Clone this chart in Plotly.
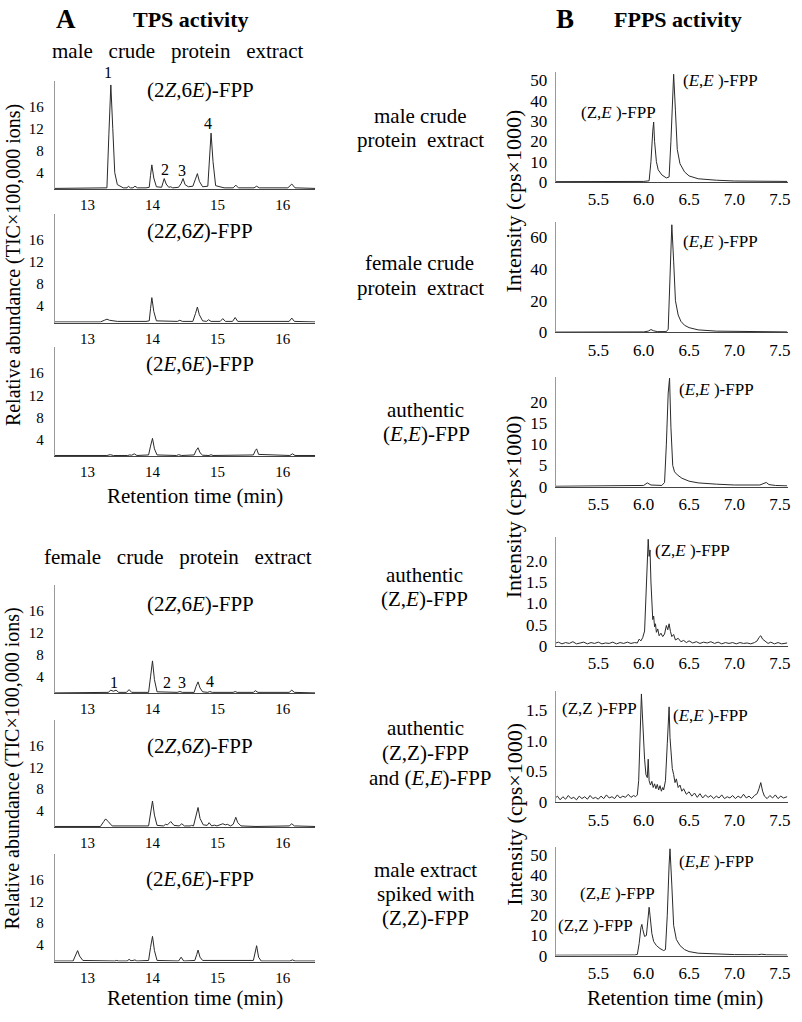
import plotly.graph_objects as go

# ---------------- DATA ----------------
# Panel A: GC-MS chromatograms, retention time (min) vs TIC (x100,000 ions)
A1_male_2Z6E = [(12.50, 1.1), (12.80, 1.1), (13.00, 1.1), (13.30, 1.2), (13.33, 11.0), (13.36, 20.0),
                (13.39, 12.0), (13.42, 4.0), (13.46, 1.8), (13.55, 1.2), (13.61, 1.2), (13.63, 1.5),
                (13.66, 1.2), (13.70, 1.2), (13.73, 1.5), (13.77, 1.2), (13.90, 1.2), (13.95, 1.3),
                (13.97, 3.5), (13.99, 5.4), (14.02, 3.0), (14.06, 1.4), (14.14, 1.3), (14.16, 2.2),
                (14.18, 2.9), (14.21, 1.9), (14.25, 1.3), (14.28, 1.4), (14.31, 1.2), (14.40, 1.3),
                (14.44, 2.0), (14.47, 2.9), (14.50, 1.8), (14.55, 1.4), (14.62, 1.5), (14.66, 2.8),
                (14.69, 3.8), (14.72, 2.4), (14.77, 1.4), (14.85, 1.5), (14.88, 7.0), (14.90, 11.2),
                (14.93, 6.0), (14.97, 1.6), (15.10, 1.2), (15.24, 1.2), (15.28, 1.7), (15.32, 1.2),
                (15.56, 1.2), (15.60, 1.5), (15.64, 1.2), (16.08, 1.2), (16.14, 1.9), (16.19, 1.2),
                (16.50, 1.1)]
A2_male_2Z6Z = [(12.50, 1.1), (13.20, 1.1), (13.26, 1.4), (13.30, 1.6), (13.34, 1.4), (13.40, 1.3),
                (13.46, 1.2), (13.90, 1.2), (13.95, 1.3), (13.97, 3.5), (13.99, 5.5), (14.02, 3.0),
                (14.06, 1.3), (14.38, 1.2), (14.42, 1.4), (14.46, 1.2), (14.62, 1.2), (14.66, 2.6),
                (14.69, 3.8), (14.72, 2.4), (14.77, 1.3), (14.83, 1.2), (14.86, 1.5), (14.90, 1.2),
                (15.04, 1.2), (15.08, 1.7), (15.12, 1.2), (15.23, 1.2), (15.27, 1.9), (15.31, 1.2),
                (16.10, 1.2), (16.14, 1.8), (16.18, 1.2), (16.50, 1.1)]
A3_male_2E6E = [(12.50, 1.1), (12.62, 1.1), (12.65, 1.2), (12.68, 1.1), (13.30, 1.1), (13.35, 1.25),
                (13.40, 1.1), (13.62, 1.1), (13.65, 1.2), (13.68, 1.15), (13.72, 1.4), (13.76, 1.1),
                (13.94, 1.2), (13.97, 2.8), (14.00, 4.2), (14.03, 2.3), (14.07, 1.2), (14.37, 1.1),
                (14.40, 1.25), (14.45, 1.1), (14.64, 1.2), (14.67, 2.0), (14.70, 2.5), (14.73, 1.6),
                (14.77, 1.15), (14.87, 1.1), (14.90, 1.25), (14.93, 1.1), (15.55, 1.2), (15.58, 2.0),
                (15.60, 2.3), (15.63, 1.3), (16.11, 1.1), (16.15, 1.4), (16.19, 1.1), (16.50, 1.1)]
A4_female_2Z6E = [(12.50, 1.1), (12.80, 1.1), (13.32, 1.2), (13.36, 1.6), (13.40, 1.4), (13.44, 1.6),
                  (13.48, 1.2), (13.60, 1.2), (13.64, 1.7), (13.68, 1.2), (13.94, 1.2), (13.97, 4.0),
                  (14.00, 6.9), (14.03, 3.5), (14.07, 1.3), (14.38, 1.2), (14.42, 1.35), (14.46, 1.2),
                  (14.64, 1.2), (14.67, 2.3), (14.70, 3.1), (14.73, 2.0), (14.77, 1.3), (14.85, 1.2),
                  (14.88, 1.35), (14.92, 1.2), (15.24, 1.2), (15.27, 1.35), (15.30, 1.2), (15.55, 1.2),
                  (15.58, 1.5), (15.62, 1.2), (16.10, 1.2), (16.14, 1.6), (16.18, 1.2), (16.50, 1.1)]
A5_female_2Z6Z = [(12.50, 1.1), (13.20, 1.1), (13.25, 2.0), (13.28, 2.5), (13.32, 2.0), (13.38, 1.2),
                  (13.94, 1.2), (13.97, 3.8), (14.00, 5.8), (14.03, 3.2), (14.07, 1.3), (14.17, 1.2),
                  (14.20, 1.5), (14.23, 1.4), (14.28, 2.0), (14.33, 1.3), (14.41, 1.2), (14.45, 1.6),
                  (14.49, 1.2), (14.58, 1.2), (14.60, 1.3), (14.63, 1.2), (14.67, 3.0), (14.70, 4.6),
                  (14.73, 2.6), (14.78, 1.4), (14.84, 1.3), (14.87, 1.8), (14.91, 1.2), (14.95, 1.35),
                  (14.99, 1.2), (15.05, 1.4), (15.08, 1.6), (15.12, 1.4), (15.15, 1.5), (15.20, 1.2),
                  (15.24, 1.5), (15.28, 2.8), (15.31, 1.8), (15.36, 1.2), (15.53, 1.1), (15.56, 1.2),
                  (15.59, 1.1), (16.10, 1.2), (16.14, 1.6), (16.18, 1.2), (16.50, 1.1)]
A6_female_2E6E = [(12.50, 1.1), (12.78, 1.1), (12.82, 2.2), (12.85, 3.0), (12.88, 2.0), (12.93, 1.2),
                  (13.42, 1.1), (13.45, 1.2), (13.48, 1.1), (13.61, 1.1), (13.64, 1.4), (13.67, 1.15),
                  (13.70, 1.2), (13.73, 1.3), (13.76, 1.1), (13.94, 1.2), (13.97, 3.6), (14.00, 5.6),
                  (14.03, 3.0), (14.07, 1.2), (14.40, 1.1), (14.44, 1.8), (14.48, 1.1), (14.65, 1.2),
                  (14.68, 2.3), (14.70, 3.1), (14.73, 1.8), (14.77, 1.2), (15.55, 1.2), (15.58, 2.8),
                  (15.60, 3.9), (15.63, 1.8), (15.67, 1.1), (16.11, 1.1), (16.15, 1.3), (16.19, 1.1),
                  (16.50, 1.1)]

# Panel B: LC-MS traces, retention time (min) vs intensity (cps x 1000)
B1_male = [(5.02, 0.2), (5.50, 0.2), (6.00, 0.3), (6.06, 0.6), (6.08, 10), (6.10, 25), (6.11, 29.5),
           (6.12, 20), (6.14, 10), (6.16, 6), (6.20, 3.5), (6.25, 2), (6.28, 2.5), (6.30, 20), (6.32, 45),
           (6.33, 53), (6.35, 35), (6.37, 16), (6.40, 9), (6.45, 5), (6.50, 3), (6.60, 1.6), (6.80, 0.9),
           (7.00, 0.5), (7.58, 0.3)]
B2_female = [(5.02, 0.2), (5.50, 0.2), (6.00, 0.3), (6.05, 0.8), (6.08, 1.8), (6.11, 1.0), (6.15, 0.5),
             (6.25, 0.5), (6.27, 2), (6.29, 35), (6.31, 68), (6.33, 45), (6.35, 20), (6.38, 11), (6.41, 7),
             (6.45, 4.5), (6.50, 3), (6.60, 1.6), (6.80, 0.8), (7.58, 0.3)]
B3_auth_EE = [(5.02, 0.1), (5.80, 0.15), (6.00, 0.3), (6.04, 0.9), (6.08, 0.4), (6.20, 0.3), (6.23, 1.0),
              (6.25, 10), (6.27, 22), (6.285, 25.5), (6.30, 14), (6.32, 5), (6.34, 3.5), (6.37, 2.8),
              (6.42, 2.0), (6.50, 1.3), (6.60, 0.9), (6.80, 0.6), (7.00, 0.4), (7.28, 0.4), (7.32, 0.7),
              (7.35, 1.0), (7.38, 0.5), (7.45, 0.3), (7.58, 0.2)]
B4_auth_ZE = [(5.02, 0.06), (5.06, 0.09), (5.10, 0.05), (5.14, 0.08), (5.18, 0.06), (5.22, 0.10), (5.26, 0.05),
              (5.30, 0.07), (5.34, 0.09), (5.38, 0.05), (5.42, 0.08), (5.46, 0.06), (5.50, 0.09), (5.54, 0.05),
              (5.58, 0.07), (5.62, 0.06), (5.66, 0.09), (5.70, 0.05), (5.74, 0.08), (5.78, 0.06), (5.82, 0.09),
              (5.86, 0.06), (5.90, 0.08), (5.93, 0.07), (5.95, 0.16), (5.97, 0.12), (5.99, 0.20), (6.01, 0.35),
              (6.025, 1.30), (6.04, 2.05), (6.05, 2.50), (6.06, 2.10), (6.07, 2.25), (6.08, 1.50), (6.09, 1.00),
              (6.10, 0.62), (6.11, 0.70), (6.12, 0.45), (6.13, 0.52), (6.14, 0.32), (6.155, 0.40), (6.17, 0.24),
              (6.19, 0.30), (6.21, 0.22), (6.23, 0.28), (6.25, 0.48), (6.265, 0.38), (6.28, 0.52), (6.295, 0.34),
              (6.31, 0.22), (6.33, 0.27), (6.35, 0.14), (6.38, 0.18), (6.41, 0.10), (6.44, 0.13), (6.47, 0.08),
              (6.50, 0.12), (6.54, 0.07), (6.58, 0.10), (6.62, 0.06), (6.66, 0.09), (6.70, 0.07), (6.74, 0.10),
              (6.78, 0.06), (6.82, 0.09), (6.86, 0.05), (6.90, 0.08), (6.94, 0.06), (6.98, 0.08), (7.02, 0.05),
              (7.06, 0.08), (7.10, 0.06), (7.14, 0.07), (7.18, 0.05), (7.22, 0.08), (7.25, 0.12), (7.27, 0.20),
              (7.29, 0.24), (7.31, 0.16), (7.34, 0.10), (7.37, 0.06), (7.40, 0.09), (7.44, 0.05), (7.48, 0.08),
              (7.52, 0.05), (7.58, 0.07)]
B5_auth_ZZ_EE = [(5.02, 0.06), (5.05, 0.10), (5.08, 0.04), (5.11, 0.09), (5.14, 0.05), (5.17, 0.11), (5.20, 0.06),
                 (5.23, 0.08), (5.26, 0.04), (5.29, 0.10), (5.32, 0.06), (5.35, 0.09), (5.38, 0.05), (5.41, 0.11),
                 (5.44, 0.06), (5.47, 0.08), (5.50, 0.05), (5.53, 0.10), (5.56, 0.06), (5.59, 0.12), (5.62, 0.07),
                 (5.65, 0.09), (5.68, 0.06), (5.71, 0.12), (5.74, 0.07), (5.77, 0.10), (5.80, 0.08), (5.83, 0.13),
                 (5.86, 0.08), (5.89, 0.11), (5.91, 0.09), (5.93, 0.12), (5.945, 0.35), (5.96, 1.00), (5.975, 1.76),
                 (5.985, 1.45), (5.995, 1.05), (6.01, 0.70), (6.025, 0.45), (6.04, 0.40), (6.05, 0.70), (6.06, 0.35),
                 (6.075, 0.28), (6.09, 0.34), (6.105, 0.24), (6.12, 0.30), (6.135, 0.22), (6.15, 0.29), (6.165, 0.20),
                 (6.18, 0.27), (6.195, 0.18), (6.21, 0.24), (6.22, 0.20), (6.24, 0.35), (6.26, 0.95), (6.28, 1.55),
                 (6.29, 1.05), (6.30, 0.85), (6.315, 0.55), (6.33, 0.45), (6.345, 0.32), (6.36, 0.38), (6.38, 0.24),
                 (6.40, 0.28), (6.42, 0.18), (6.44, 0.22), (6.47, 0.13), (6.50, 0.17), (6.53, 0.10), (6.56, 0.15),
                 (6.59, 0.08), (6.62, 0.14), (6.65, 0.07), (6.68, 0.12), (6.71, 0.08), (6.74, 0.11), (6.77, 0.06),
                 (6.80, 0.10), (6.83, 0.07), (6.86, 0.12), (6.89, 0.06), (6.92, 0.09), (6.95, 0.07), (6.98, 0.11),
                 (7.01, 0.06), (7.04, 0.10), (7.07, 0.07), (7.10, 0.13), (7.13, 0.07), (7.16, 0.10), (7.19, 0.06),
                 (7.22, 0.11), (7.25, 0.14), (7.27, 0.22), (7.29, 0.32), (7.31, 0.18), (7.33, 0.10), (7.36, 0.06),
                 (7.39, 0.11), (7.42, 0.07), (7.45, 0.12), (7.48, 0.06), (7.51, 0.10), (7.54, 0.07), (7.58, 0.09)]
B6_male_spiked = [(5.02, 0.2), (5.50, 0.2), (5.90, 0.3), (5.93, 0.6), (5.95, 6), (5.97, 14), (5.98, 15.5),
                  (5.99, 13), (6.01, 9.5), (6.03, 10), (6.045, 18), (6.06, 24), (6.07, 20), (6.09, 11), (6.11, 7),
                  (6.14, 5), (6.18, 3.5), (6.22, 2.5), (6.24, 3), (6.26, 20), (6.28, 45), (6.29, 53), (6.31, 35),
                  (6.33, 15), (6.36, 8), (6.40, 5), (6.45, 3), (6.50, 2), (6.60, 1.2), (6.80, 0.7), (7.00, 0.5),
                  (7.25, 0.4), (7.30, 0.7), (7.35, 0.4), (7.58, 0.3)]

# tick labels
A_xticks = [13, 14, 15, 16]
A_yticks = [4, 8, 12, 16]
B_xticks = [5.5, 6.0, 6.5, 7.0, 7.5]
B_xticklabels = ["5.5", "6.0", "6.5", "7.0", "7.5"]
B1_yticks = [0, 10, 20, 30, 40, 50]
B2_yticks = [0, 20, 40, 60]
B3_yticks = [0, 5, 10, 15, 20]
B4_yticks = [0, 0.5, 1.0, 1.5, 2.0]
B4_yticklabels = ["0", "0.5", "1.0", "1.5", "2.0"]
B5_yticks = [0, 0.5, 1.0, 1.5]
B5_yticklabels = ["0", "0.5", "1.0", "1.5"]
B6_yticks = [0, 10, 20, 30, 40, 50]

# ---------------- LAYOUT ----------------
W, H = 802, 1022
FONT = "Liberation Serif, Times New Roman, serif"


def fx(x):
    return x / W


def fy(y):
    return 1 - y / H


# (data, x-domain px, y-domain px (top, bottom), x range, y range, yticks, yticklabels)
panels = [
    (A1_male_2Z6E, (55, 316), (81, 190), [12.5, 16.5], [1.0, 20.7], A_yticks, None),
    (A2_male_2Z6Z, (55, 316), (215, 325), [12.5, 16.5], [1.0, 20.7], A_yticks, None),
    (A3_male_2E6E, (55, 316), (350, 460), [12.5, 16.5], [1.0, 20.7], A_yticks, None),
    (A4_female_2Z6E, (55, 316), (590, 700), [12.5, 16.5], [1.0, 20.7], A_yticks, None),
    (A5_female_2Z6Z, (55, 316), (727, 835), [12.5, 16.5], [1.0, 20.7], A_yticks, None),
    (A6_female_2E6E, (55, 316), (862, 971), [12.5, 16.5], [1.0, 20.7], A_yticks, None),
    (B1_male, (557, 790), (72, 183), [5.03, 7.59], [0, 54], B1_yticks, None),
    (B2_female, (557, 790), (223, 335), [5.03, 7.59], [0, 70], B2_yticks, None),
    (B3_auth_EE, (557, 790), (380, 491), [5.03, 7.59], [0, 25.8], B3_yticks, None),
    (B4_auth_ZE, (557, 790), (542, 652), [5.03, 7.59], [0, 2.55], B4_yticks, B4_yticklabels),
    (B5_auth_ZZ_EE, (557, 790), (698, 810), [5.03, 7.59], [0, 1.8], B5_yticks, B5_yticklabels),
    (B6_male_spiked, (557, 790), (855, 965), [5.03, 7.59], [0, 54], B6_yticks, None),
]

fig = go.Figure()
layout = {}
for i, (pts, xd, yd, xr, yr, yt, ytl) in enumerate(panels, start=1):
    t, v = zip(*pts)
    sfx = "" if i == 1 else str(i)
    left = i <= 6
    fig.add_trace(go.Scatter(x=list(t), y=list(v), mode="lines",
                             line=dict(color="#2a2a2a", width=1),
                             xaxis="x" + sfx, yaxis="y" + sfx, showlegend=False,
                             hoverinfo="skip"))
    tick_size = 15 if left else 17
    layout["xaxis" + sfx] = dict(
        domain=[fx(xd[0]), fx(xd[1])], range=xr, anchor="y" + sfx,
        showgrid=False, zeroline=False, showline=True, linecolor="#444", linewidth=1,
        ticks="", tickvals=A_xticks if left else B_xticks,
        ticktext=[str(a) for a in A_xticks] if left else B_xticklabels,
        tickfont=dict(family=FONT, size=tick_size, color="black"),
        ticklabelstandoff=2,
    )
    layout["yaxis" + sfx] = dict(
        domain=[fy(yd[1]), fy(yd[0])], range=yr, anchor="x" + sfx,
        showgrid=False, zeroline=False, showline=True, linecolor="#999", linewidth=1,
        ticks="", tickvals=yt, ticktext=ytl if ytl else [str(a) for a in yt],
        tickfont=dict(family=FONT, size=tick_size, color="black"),
        ticklabelstandoff=7 if left else 4,
    )


def ann(text, x, y, size, **kw):
    d = dict(text=text, x=fx(x), y=fy(y), xref="paper", yref="paper", showarrow=False,
             xanchor="center", yanchor="middle",
             font=dict(family=FONT, size=size, color="black"))
    d.update(kw)
    return d


NB = "\u00a0"
EE = "(<i>E</i>,<i>E</i>" + NB + ")-FPP"
ZE = "(Z,<i>E</i>" + NB + ")-FPP"
ZZ = "(Z,Z" + NB + ")-FPP"

annotations = [
    ann("<b>A</b>", 66, 18, 27),
    ann("<b>TPS activity</b>", 191, 19, 22),
    ann("<b>B</b>", 566, 18, 27),
    ann("<b>FPPS activity</b>", 680, 19, 22),
    ann("male" + NB * 3 + "crude" + NB * 3 + "protein" + NB * 3 + "extract", 178, 51, 21),
    ann("female" + NB * 3 + "crude" + NB * 3 + "protein" + NB * 3 + "extract", 178, 562, 21),
    # y-axis titles
    ann("Relative abundance (TIC×100,000 ions)", 13, 267, 20, textangle=-90),
    ann("Relative abundance (TIC×100,000 ions)", 13, 776, 20, textangle=-90),
    ann("Intensity (cps×1000)", 515, 202, 22, textangle=-90),
    ann("Intensity (cps×1000)", 515, 511, 22, textangle=-90),
    ann("Intensity (cps×1000)", 515, 822, 22, textangle=-90),
    # x-axis titles
    ann("Retention time (min)", 195, 500, 21),
    ann("Retention time (min)", 195, 1008, 21),
    ann("Retention time (min)", 677, 1008, 21),
    # A panel titles
    ann("(2<i>Z</i>,6<i>E</i>)-FPP", 201, 90, 21),
    ann("(2<i>Z</i>,6<i>Z</i>)-FPP", 201, 232, 21),
    ann("(2<i>E</i>,6<i>E</i>)-FPP", 201, 367, 21),
    ann("(2<i>Z</i>,6<i>E</i>)-FPP", 201, 610, 21),
    ann("(2<i>Z</i>,6<i>Z</i>)-FPP", 201, 753, 21),
    ann("(2<i>E</i>,6<i>E</i>)-FPP", 201, 888, 21),
    # peak numbers
    ann("1", 108, 72, 16), ann("2", 165, 170, 16), ann("3", 182, 171, 16), ann("4", 209, 124, 16),
    ann("1", 114, 689, 16), ann("2", 167, 689, 16), ann("3", 182, 689, 16), ann("4", 211, 688, 16),
    # B sample labels
    ann("male crude", 422, 116, 21), ann("protein" + NB + " extract", 422, 141, 21),
    ann("female crude", 421, 265, 21), ann("protein" + NB + " extract", 422, 290, 21),
    ann("authentic", 427, 413, 21), ann("(<i>E</i>,<i>E</i>)-FPP", 428, 438, 21),
    ann("authentic", 426, 580, 21), ann("(Z,<i>E</i>)-FPP", 426, 605, 21),
    ann("authentic", 427, 735, 21), ann("(Z,Z)-FPP", 427, 760, 21), ann("and (<i>E</i>,<i>E</i>)-FPP", 432, 785, 21),
    ann("male extract", 427, 878, 21), ann("spiked with", 427, 903, 21), ann("(Z,Z)-FPP", 427, 927, 21),
    # B peak labels
    ann(ZE, 620, 113, 17), ann(EE, 722, 80, 17),
    ann(EE, 722, 243, 17),
    ann(EE, 718, 393, 17),
    ann(ZE, 694, 555, 17),
    ann(ZZ, 601, 715, 17), ann(EE, 712, 722, 17),
    ann(EE, 718, 870, 17), ann(ZE, 619, 902, 17), ann(ZZ, 597, 935, 17),
]

fig.update_layout(
    width=W, height=H, margin=dict(l=0, r=0, t=0, b=0),
    paper_bgcolor="white", plot_bgcolor="white",
    annotations=annotations, **layout,
)
fig.write_html("out.html", config={"displayModeBar": False},
               post_script="document.body.style.margin='0px';")
